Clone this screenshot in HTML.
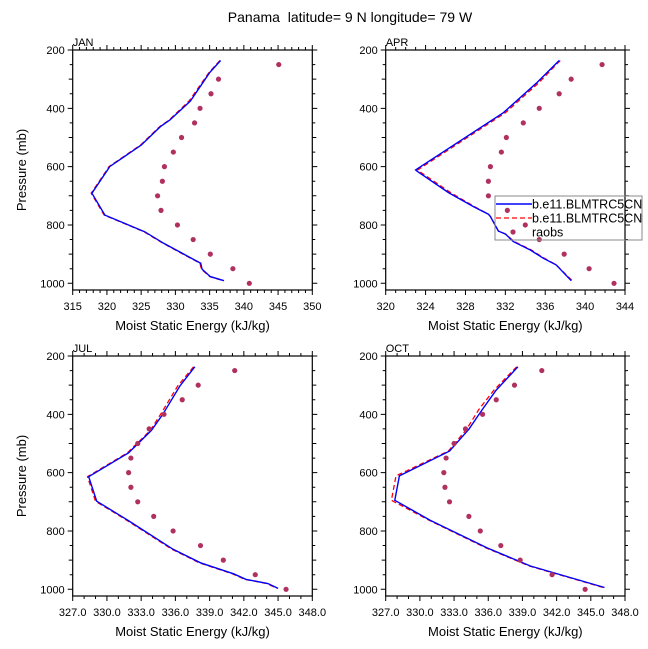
<!DOCTYPE html>
<html><head><meta charset="utf-8"><style>
body{margin:0;background:#fff}
svg{display:block;font-family:"Liberation Sans",sans-serif}
</style></head><body>
<svg id="chart" width="648" height="649" viewBox="0 0 648 649" xmlns="http://www.w3.org/2000/svg">
<defs><clipPath id="lgclip"><rect x="494" y="190" width="148" height="60"/></clipPath></defs>
<text x="350" y="22" font-size="14" text-anchor="middle" style="white-space:pre">Panama  latitude= 9 N longitude= 79 W</text>
</svg>
<script>
const obsLevels=[250,300,350,400,450,500,550,600,650,700,750,800,850,900,950,1000];
const janLev=[236,278,375,440,463,526,600,611,691,766,823,863,897,931,952,960,977,991];
const janBlue=[336.6,335.0,332.2,329.2,327.8,325.0,320.4,320.1,317.8,319.7,325.5,328.3,331.0,333.7,333.9,334.3,335.1,337.1];
const janRed=[336.5,334.9,332.0,329.1,327.7,324.9,320.3,320.0,317.7,319.6,325.4,328.2,330.9,333.6,333.8,334.2,335.0,337.0];
const janObs=[345.1,336.3,335.2,333.6,332.8,330.9,329.7,328.4,328.1,327.4,327.9,330.3,332.6,335.1,338.4,340.8];
const aprLev=[236,314,415,611,617,689,737,763,771,821,831,857,886,914,937,991];
const aprBlue=[337.4,335.1,331.8,323.0,323.2,326.3,328.8,330.3,330.5,331.3,332.0,332.8,334.5,335.8,337.1,338.6];
const aprRed=[337.5,335.3,332.0,323.2,323.4,326.5,328.9,330.3,330.5,331.3,332.0,332.9,334.6,335.9,337.1,338.7];
const aprObs=[341.7,338.6,337.4,335.4,333.8,332.1,331.6,330.5,330.3,330.3,332.2,334.0,335.4,337.9,340.4,342.9];
const julLev=[237,303,400,455,532,614,698,760,863,909,947,966,980,997];
const julBlue=[337.7,336.4,334.9,333.9,331.9,328.4,329.1,331.7,335.8,338.2,341.1,342.2,344.1,345.0];
const julRed=[337.6,336.2,334.7,333.8,331.8,328.3,329.0,331.6,335.7,338.1,341.0,342.1,344.0,344.9];
const julObs=[341.2,338.0,336.6,335.0,333.7,332.7,332.1,331.9,332.1,332.7,334.1,335.8,338.2,340.2,343.0,345.7];
const octLev=[237,317,382,451,526,611,695,763,858,920,994];
const octBlue=[338.6,336.7,335.5,334.3,332.6,328.2,327.8,330.9,335.9,339.7,346.2];
const octRed=[338.5,336.5,335.2,334.1,332.5,327.9,327.5,330.8,335.8,339.6,346.1];
const octObs=[340.7,338.3,336.7,335.5,334.0,333.0,332.3,332.1,332.2,332.6,334.3,335.3,337.1,338.8,341.6,344.5];
const yTicks=[200,400,600,800,1000];

const NS="http://www.w3.org/2000/svg";
const svg=document.getElementById('chart');
function mk(tag,at,parent){const e=document.createElementNS(NS,tag);for(const k in at)e.setAttribute(k,at[k]);(parent||svg).appendChild(e);return e;}

const panels=[
 {name:'jan',label:'JAN',x0:72.7,x1:312.3,y0:50,y1:290,xmin:315,xmax:350,maj:5,dec:0,lev:janLev,blue:janBlue,red:janRed,obs:janObs,ytitle:true},
 {name:'apr',label:'APR',x0:385.7,x1:625,y0:50,y1:290,xmin:320,xmax:344,maj:4,dec:0,lev:aprLev,blue:aprBlue,red:aprRed,obs:aprObs,ytitle:false},
 {name:'jul',label:'JUL',x0:72.7,x1:312.3,y0:356,y1:596,xmin:327,xmax:348,maj:3,dec:1,lev:julLev,blue:julBlue,red:julRed,obs:julObs,ytitle:true},
 {name:'oct',label:'OCT',x0:385.7,x1:625,y0:356,y1:596,xmin:327,xmax:348,maj:3,dec:1,lev:octLev,blue:octBlue,red:octRed,obs:octObs,ytitle:false}
];
const PMIN=200,PMAX=1023;
panels.forEach(P=>{
  const g=mk('g',{});
  
  
  const xs=v=>P.x0+(v-P.xmin)/(P.xmax-P.xmin)*(P.x1-P.x0);
  const ys=p=>P.y0+(p-PMIN)/(PMAX-PMIN)*(P.y1-P.y0);
  let tk='';
  for(let v=P.xmin;v<=P.xmax+1e-9;v+=1){
    const isM=Math.abs((v-P.xmin)%P.maj)<1e-6, L=isM?5:3, x=xs(v);
    tk+=`M${x},${P.y1}v${L}M${x},${P.y0}v${-L}`;
  }
  for(let p=200;p<=1000;p+=50){
    const isM=p%200===0, L=isM?5:(p%100===0?4:3), y=ys(p);
    tk+=`M${P.x0},${y}h${-L}M${P.x1},${y}h${L}`;
  }
  const t=mk('path',{d:tk,stroke:'#000','stroke-width':1,fill:'none'},g);
  
  
  for(let v=P.xmin;v<=P.xmax+1e-9;v+=P.maj){
    const e=mk('text',{x:xs(v),y:P.y1+20,'font-size':11,'text-anchor':'middle'},g);
    e.textContent=v.toFixed(P.dec);
    
    
  }
  yTicks.forEach(p=>{
    const e=mk('text',{x:P.x0-8,y:ys(p)+4,'font-size':11,'text-anchor':'end'},g);
    e.textContent=p;
    
    
  });
  const xt=mk('text',{x:(P.x0+P.x1)/2,y:P.y1+40,'font-size':13,'text-anchor':'middle'},g);
  xt.textContent='Moist Static Energy (kJ/kg)';
  
  
  if(P.ytitle){
    const cy=(P.y0+P.y1)/2;
    const yt=mk('text',{x:26,y:cy,'font-size':13,'text-anchor':'middle',transform:`rotate(-90 26 ${cy})`},g);
    yt.textContent='Pressure (mb)';
    
    
  }
  const lb=mk('text',{x:P.x0,y:P.y0-4,'font-size':11},g);
  lb.textContent=P.label;
  
  
  const pts=arr=>arr.map((v,i)=>xs(v).toFixed(1)+','+ys(P.lev[i]).toFixed(1)).join(' ');
  const r=mk('polyline',{points:pts(P.red),fill:'none',stroke:'#ff0000','stroke-width':1.3,'stroke-dasharray':'5,3'},g);
  
  
  const b=mk('polyline',{points:pts(P.blue),fill:'none',stroke:'#0000ff','stroke-width':1.4},g);
  
  
  P.obs.forEach((v,i)=>{
    const c=mk('circle',{cx:xs(v),cy:ys(obsLevels[i]),r:2.6,fill:'#b03060'},g);
    
    
  });
  const bx=mk('rect',{x:P.x0,y:P.y0,width:P.x1-P.x0,height:P.y1-P.y0,fill:'none',stroke:'#000','stroke-width':1.2},g);
  
  
});
const lg=mk('g',{});


const lr=mk('rect',{x:495,y:196,width:147,height:44,fill:'none',stroke:'#888','stroke-width':1},lg);


const l1=mk('line',{x1:496,y1:204,x2:532,y2:204,stroke:'#0000ff','stroke-width':1.4},lg);


const l2=mk('line',{x1:496,y1:218,x2:532,y2:218,stroke:'#ff0000','stroke-width':1.3,'stroke-dasharray':'5,3'},lg);


const l3=mk('circle',{cx:513,cy:232,r:2.6,fill:'#b03060'},lg);


const lt=mk('g',{'clip-path':'url(#lgclip)'},lg);
[['b.e11.BLMTRC5CN.f19_g16.001',208.5,'legend-entry-blue'],['b.e11.BLMTRC5CN.f19_g16.002',222.5,'legend-entry-red'],['raobs',236.5,'legend-entry-raobs']].forEach(a=>{
  const e=mk('text',{x:532,y:a[1],'font-size':12.5},lt);
  e.textContent=a[0];
  
  
});
</script>
</body></html>
